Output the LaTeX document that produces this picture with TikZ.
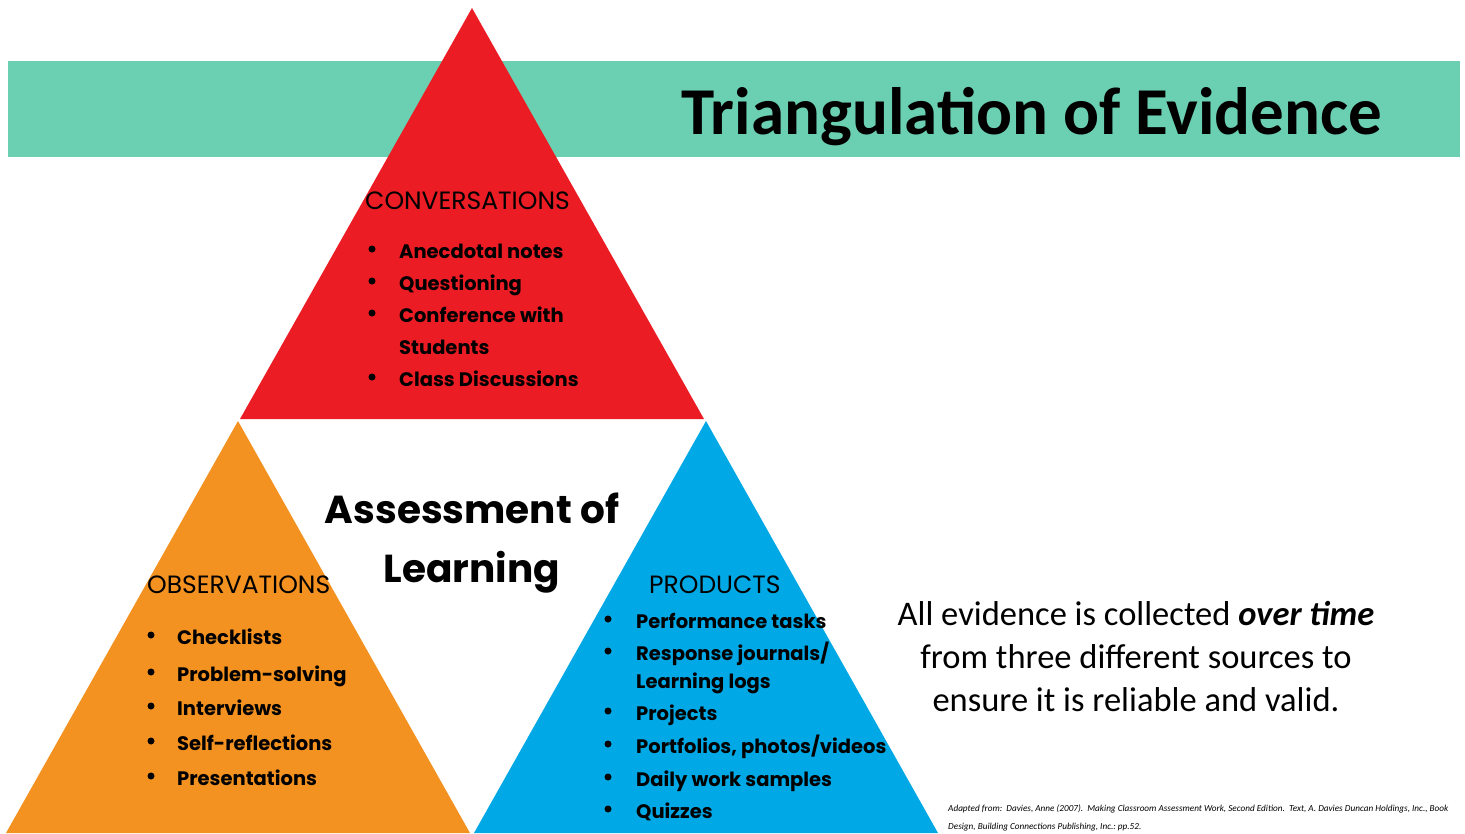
\documentclass[tikz,border=0pt]{standalone}
\usepackage{fontspec}
\setmainfont{Carlito}
\newfontfamily\geofont{Poppins}

\definecolor{bannerteal}{HTML}{6BCFB1}
\definecolor{convred}{HTML}{EC1C24}
\definecolor{obsorange}{HTML}{F39220}
\definecolor{prodblue}{HTML}{00A9E6}

\tikzset{
  heading/.style={font=\geofont\fontsize{25}{29}\selectfont, anchor=base west, inner sep=0pt},
  item/.style={font=\geofont\bfseries\fontsize{19.5}{24}\selectfont, anchor=base west, inner sep=0pt},
  dot/.style={circle, fill=black, inner sep=0pt, minimum size=7pt},
  note/.style={font=\fontsize{34.5}{40}\selectfont, anchor=base, inner sep=0pt},
}

\begin{document}
\begin{tikzpicture}[x=1pt, y=-1pt]
        \useasboundingbox (0,0) rectangle (1465,833);
        % banner and the three triangles
        \fill [bannerteal] (8,61) rectangle (1460,157);
        \fill [convred] (472,8) -- (704,419) -- (240,419) -- cycle;
        \fill [obsorange] (238,421) -- (470,833) -- (6,833) -- cycle;
        \fill [prodblue] (706,421) -- (938,833) -- (474,833) -- cycle;
        \node [anchor=base west, inner sep=0pt, font=\bfseries\fontsize{67}{80}\selectfont]
          (title) at (681,134) {Triangulation of Evidence};
        % headings
        \node [heading] (conv-head) at (365,209) {CONVERSATIONS};
        \node [heading] (obs-head) at (147,593) {OBSERVATIONS};
        \node [heading] (prod-head) at (649,593) {PRODUCTS};
        % lists
        \foreach \y/\t/\b [count=\i] in {258/Anecdotal notes/1, 290/Questioning/1,
            322/Conference with/1, 354/Students/0, 386/Class Discussions/1}
          {
          \node [item] (conv-\i) at (399,\y) {\t};
          \ifnum\b=1 \node [dot] (conv-dot-\i) at ([xshift=-27pt, yshift=9pt]conv-\i.base west) {};\fi
          }
        \foreach \y/\t [count=\i] in {644/Checklists, 681/Problem-solving,
            715/Interviews, 750/Self-reflections, 785/Presentations}
          {
          \node [item] (obs-\i) at (177,\y) {\t};
          \node [dot] (obs-dot-\i) at ([xshift=-26pt, yshift=9pt]obs-\i.base west) {};
          }
        \foreach \y/\t/\b [count=\i] in {628/Performance tasks/1, 660/{Response journals/}/1,
            688/Learning logs/0, 720/Projects/1, 753/{Portfolios, photos/videos}/1,
            786/Daily work samples/1, 818/Quizzes/1}
          {
          \node [item] (prod-\i) at (636,\y) {\t};
          \ifnum\b=1 \node [dot] (prod-dot-\i) at ([xshift=-28pt, yshift=9pt]prod-\i.base west) {};\fi
          }
        % centre
        \node [anchor=base, inner sep=0pt, font=\geofont\bfseries\fontsize{39}{48}\selectfont]
          (aol-1) at (472,523) {Assessment of};
        \node [anchor=base, inner sep=0pt, font=\geofont\bfseries\fontsize{39}{48}\selectfont]
          (aol-2) at (472,582) {Learning};
        % note on the right
        \node [note] (note-1) at (1136,625) {All evidence is collected \textbf{\textit{over time}}};
        \node [note] (note-2) at (1136,668) {from three different sources to};
        \node [note] (note-3) at (1136,711) {ensure it is reliable and valid.};
        \node [anchor=north west, align=left, inner sep=0pt, font=\itshape\fontsize{9.2}{18}\selectfont]
          (source) at (948,805) {Adapted from:\ \ Davies, Anne (2007).\ \ Making Classroom Assessment Work, Second Edition.\ \ Text, A. Davies Duncan Holdings, Inc., Book\\
          Design, Building Connections Publishing, Inc.:\ pp.52.};
    \end{tikzpicture}
\end{document}
